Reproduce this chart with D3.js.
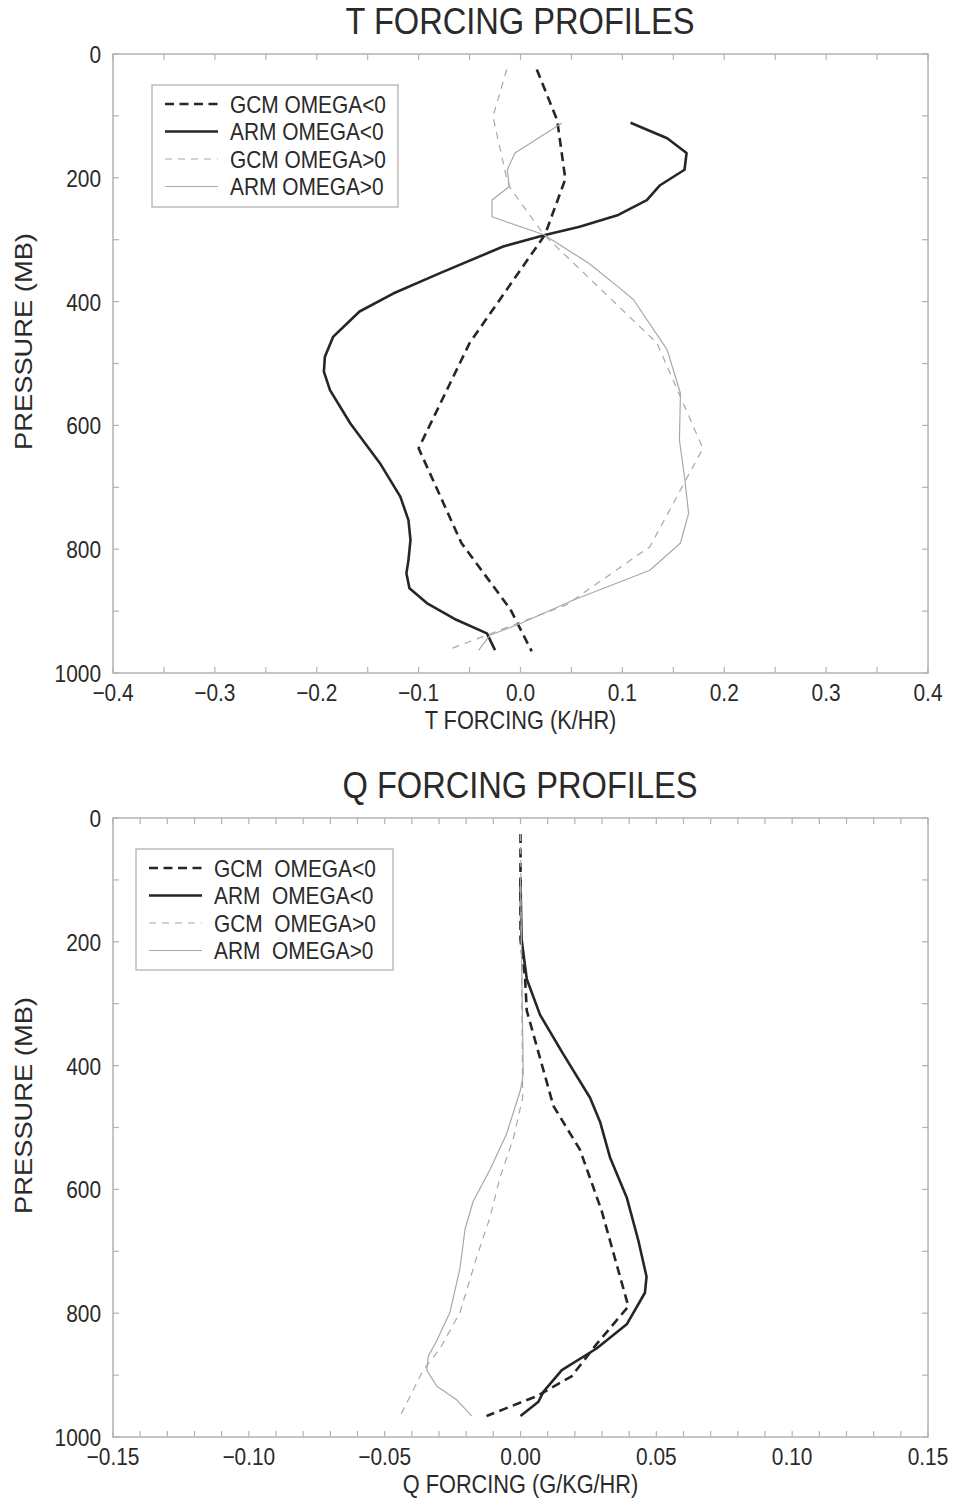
<!DOCTYPE html>
<html>
<head>
<meta charset="utf-8">
<script src="https://cdn.jsdelivr.net/npm/d3@7"></script>
<style>
  html, body { margin: 0; padding: 0; background: #fff; }
  svg { display: block; font-family: "Liberation Sans", Arial, Helvetica, sans-serif; }
  text { fill: #2a2a2a; white-space: pre; }
</style>
</head>
<body>
<svg id="chart" width="953" height="1500"></svg>
<script>
// ---------------- DATA ----------------
// T forcing panel (K/HR) vs pressure (MB)
const tGcmNegP = [25, 107, 202, 292, 467, 637, 790, 897, 965];
const tGcmNegV = [0.016, 0.036, 0.044, 0.024, -0.050, -0.100, -0.058, -0.010, 0.011];

const tArmNegP = [111, 136, 160, 187, 212, 236, 260, 279, 292, 311, 354, 387, 416, 457, 489, 513, 543, 597, 661, 715, 753, 785, 818, 839, 863, 887, 914, 936, 963];
const tArmNegV = [0.108, 0.144, 0.163, 0.161, 0.137, 0.124, 0.096, 0.058, 0.025, -0.017, -0.079, -0.125, -0.158, -0.184, -0.192, -0.193, -0.187, -0.167, -0.138, -0.118, -0.110, -0.108, -0.110, -0.112, -0.109, -0.092, -0.063, -0.033, -0.025];

const tGcmPosP = [25, 101, 202, 217, 292, 467, 637, 796, 890, 963];
const tGcmPosV = [-0.0135, -0.027, -0.0135, -0.010, 0.023, 0.134, 0.179, 0.127, 0.045, -0.072];

const tArmPosP = [112, 160, 187, 214, 236, 263, 292, 338, 379, 397, 478, 548, 624, 683, 742, 790, 834, 882, 920, 939, 963];
const tArmPosV = [0.0404, -0.0054, -0.013, -0.011, -0.028, -0.028, 0.023, 0.067, 0.098, 0.111, 0.144, 0.157, 0.156, 0.161, 0.165, 0.157, 0.127, 0.052, 0.000, -0.030, -0.041];

// Q forcing panel (G/KG/HR) vs pressure (MB)
const qGcmNegP = [26, 196, 260, 311, 465, 536, 635, 789, 850, 902, 934, 966];
const qGcmNegV = [0.000, 0.000, 0.0017, 0.0023, 0.0121, 0.0219, 0.0299, 0.0397, 0.028, 0.0188, 0.006, -0.0125];

const qArmNegP = [99, 196, 260, 318, 382, 452, 491, 549, 613, 683, 741, 767, 818, 857, 892, 927, 943, 966];
const qArmNegV = [0.000, 0.0004, 0.0023, 0.0072, 0.0158, 0.0256, 0.0293, 0.033, 0.0391, 0.0434, 0.0464, 0.0458, 0.0391, 0.028, 0.0152, 0.0084, 0.0066, 0.000];

const qGcmPosP = [26, 300, 452, 517, 580, 645, 709, 799, 857, 892, 966];
const qGcmPosV = [0.000, 0.0005, 0.0008, -0.0026, -0.0075, -0.0112, -0.0161, -0.0223, -0.0296, -0.0358, -0.0443];

const qArmPosP = [99, 414, 439, 510, 568, 619, 664, 728, 799, 844, 869, 892, 918, 940, 966];
const qArmPosV = [0.000, 0.001, 0.000, -0.0051, -0.0112, -0.0174, -0.0204, -0.0223, -0.026, -0.0308, -0.0339, -0.0345, -0.0308, -0.0235, -0.018];

// Axis ticks / labels
const tXTicks = [-0.4, -0.3, -0.2, -0.1, 0.0, 0.1, 0.2, 0.3, 0.4];
const tXTickLabels = ["\u22120.4", "\u22120.3", "\u22120.2", "\u22120.1", "0.0", "0.1", "0.2", "0.3", "0.4"];
const qXTicks = [-0.15, -0.10, -0.05, 0.00, 0.05, 0.10, 0.15];
const qXTickLabels = ["\u22120.15", "\u22120.10", "\u22120.05", "0.00", "0.05", "0.10", "0.15"];
const yTicks = [0, 200, 400, 600, 800, 1000];
const yTickLabels = ["0", "200", "400", "600", "800", "1000"];

const tLegendLabels = ["GCM OMEGA<0", "ARM OMEGA<0", "GCM OMEGA>0", "ARM OMEGA>0"];
const qLegendLabels = ["GCM  OMEGA<0", "ARM  OMEGA<0", "GCM  OMEGA>0", "ARM  OMEGA>0"];

// ---------------- DRAWING ----------------
const svg = d3.select("#chart");
const SX = 0.87;              // horizontal condensing of the type
const FRAME = "#b3b3b3";
const DARK = "#262626";
const LIGHT = "#a8a8a8";

const styles = [
  {stroke: DARK,  width: 2.6, dash: "9,5.5"},
  {stroke: DARK,  width: 2.6, dash: null},
  {stroke: LIGHT, width: 1.2, dash: "7,6"},
  {stroke: LIGHT, width: 1.2, dash: null}
];

function hText(x, y, s, size, anchor) {
  svg.append("text")
    .attr("transform", `translate(${x},${y}) scale(${SX},1)`)
    .attr("text-anchor", anchor || "middle")
    .style("font-size", size + "px")
    .text(s);
}
function vText(x, y, s, size) {
  svg.append("text")
    .attr("transform", `translate(${x},${y}) rotate(-90) scale(1,${SX})`)
    .attr("text-anchor", "middle")
    .style("font-size", size + "px")
    .text(s);
}

function panel(cfg) {
  const x = d3.scaleLinear().domain(cfg.xDomain).range([cfg.left, cfg.right]);
  const y = d3.scaleLinear().domain([0, 1000]).range([cfg.top, cfg.bottom]);
  const g = svg.append("g");

  // frame
  g.append("rect")
    .attr("x", cfg.left).attr("y", cfg.top)
    .attr("width", cfg.right - cfg.left).attr("height", cfg.bottom - cfg.top)
    .attr("fill", "none").attr("stroke", FRAME).attr("stroke-width", 1.5);

  // x ticks (top & bottom, inward)
  const xMinor = d3.range(Math.round((cfg.xDomain[1] - cfg.xDomain[0]) / cfg.xMinorStep) + 1)
    .map(i => cfg.xDomain[0] + i * cfg.xMinorStep);
  const TL = 6;
  xMinor.forEach(v => {
    const px = x(v);
    g.append("line").attr("x1", px).attr("x2", px).attr("y1", cfg.bottom).attr("y2", cfg.bottom - TL)
      .attr("stroke", FRAME).attr("stroke-width", 1.2);
    g.append("line").attr("x1", px).attr("x2", px).attr("y1", cfg.top).attr("y2", cfg.top + TL)
      .attr("stroke", FRAME).attr("stroke-width", 1.2);
  });
  // y ticks (left & right, inward), every 100
  d3.range(0, 1001, 100).forEach(p => {
    const py = y(p);
    g.append("line").attr("x1", cfg.left).attr("x2", cfg.left + TL).attr("y1", py).attr("y2", py)
      .attr("stroke", FRAME).attr("stroke-width", 1.2);
    g.append("line").attr("x1", cfg.right).attr("x2", cfg.right - TL).attr("y1", py).attr("y2", py)
      .attr("stroke", FRAME).attr("stroke-width", 1.2);
  });

  // tick labels
  cfg.xTicks.forEach((v, i) => hText(x(v), cfg.bottom + 28, cfg.xTickLabels[i], 24, "middle"));
  yTicks.forEach((p, i) => hText(cfg.left - 12, y(p) + 9, yTickLabels[i], 24, "end"));

  // titles
  hText((cfg.left + cfg.right) / 2 - 0.5, cfg.top - 20, cfg.title, 37.5, "middle");
  hText((cfg.left + cfg.right) / 2, cfg.bottom + 56, cfg.xLabel, 25, "middle");
  vText(32, (cfg.top + cfg.bottom) / 2 - 22, "PRESSURE (MB)", 27.3);

  // series
  const line = d3.line().x(d => x(d[1])).y(d => y(d[0]));
  cfg.series.forEach((s, i) => {
    const st = styles[i];
    const data = s.p.map((p, k) => [p, s.v[k]]);
    g.append("path").datum(data)
      .attr("d", line)
      .attr("fill", "none")
      .attr("stroke", st.stroke)
      .attr("stroke-width", st.width)
      .attr("stroke-linejoin", "round")
      .attr("stroke-dasharray", st.dash);
  });

  // legend
  const L = cfg.legend;
  g.append("rect").attr("x", L.x).attr("y", L.y).attr("width", L.w).attr("height", L.h)
    .attr("fill", "#fff").attr("stroke", FRAME).attr("stroke-width", 1.3);
  L.labels.forEach((lab, i) => {
    const cy = L.y + 19 + i * 27.5;
    const st = styles[i];
    g.append("line").attr("x1", L.x + 13).attr("x2", L.x + 66).attr("y1", cy).attr("y2", cy)
      .attr("stroke", st.stroke).attr("stroke-width", st.width).attr("stroke-dasharray", st.dash);
    hText(L.x + 78, cy + 8.5, lab, 24, "start");
  });
}

panel({
  left: 113, right: 928, top: 54, bottom: 673,
  xDomain: [-0.4, 0.4], xMinorStep: 0.05,
  xTicks: tXTicks, xTickLabels: tXTickLabels,
  title: "T FORCING PROFILES", xLabel: "T FORCING (K/HR)",
  series: [
    {p: tGcmNegP, v: tGcmNegV},
    {p: tArmNegP, v: tArmNegV},
    {p: tGcmPosP, v: tGcmPosV},
    {p: tArmPosP, v: tArmPosV}
  ],
  legend: {x: 152, y: 85, w: 246, h: 122, labels: tLegendLabels}
});

panel({
  left: 113, right: 928, top: 818, bottom: 1437,
  xDomain: [-0.15, 0.15], xMinorStep: 0.01,
  xTicks: qXTicks, xTickLabels: qXTickLabels,
  title: "Q FORCING PROFILES", xLabel: "Q FORCING (G/KG/HR)",
  series: [
    {p: qGcmNegP, v: qGcmNegV},
    {p: qArmNegP, v: qArmNegV},
    {p: qGcmPosP, v: qGcmPosV},
    {p: qArmPosP, v: qArmPosV}
  ],
  legend: {x: 136, y: 849, w: 257, h: 121, labels: qLegendLabels}
});
</script>
</body>
</html>
